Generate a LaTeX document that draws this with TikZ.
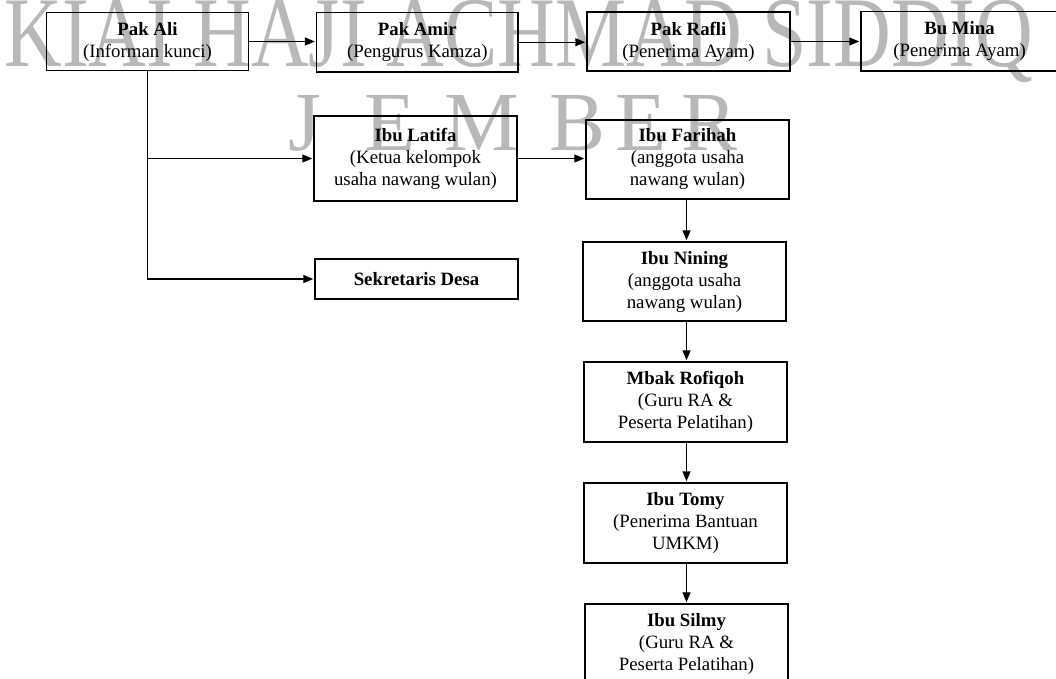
\documentclass[tikz,border=0pt]{standalone}
\usepackage{fontspec}
\setmainfont{Liberation Serif}
\usetikzlibrary{arrows.meta}
\begin{document}
\begin{tikzpicture}[x=1pt,y=-1pt,
  box/.style={draw, line width=1.5pt, align=center, inner sep=0pt,
    font=\fontsize{18.8}{22}\selectfont},
  arr/.style={line width=1.3pt, -{Triangle[length=10pt,width=8pt]}, shorten >=1pt},
  wm/.style={text=black!28, inner sep=0pt, anchor=base}]
\useasboundingbox (0,0) rectangle (1056,678);
\clip (0,0) rectangle (1056,678);
% watermark
\node[wm, font=\fontsize{100}{100}\selectfont, xscale=0.80] (wm1) at (519,66)
  {KIAI HAJI ACHMAD SIDDIQ};
\node[wm, font=\fontsize{84}{84}\selectfont] (wmJ) at (305,150) {J};
\node[wm, font=\fontsize{84}{84}\selectfont] (wmE1) at (390,150) {E};
\node[wm, font=\fontsize{84}{84}\selectfont] (wmM) at (482,150) {M};
\node[wm, font=\fontsize{84}{84}\selectfont] (wmB) at (578,150) {B};
\node[wm, font=\fontsize{84}{84}\selectfont] (wmE2) at (641,150) {E};
\node[wm, font=\fontsize{84}{84}\selectfont] (wmR) at (710,150) {R};
% boxes
\node[box, minimum width=201.6pt, minimum height=58.4pt] (ali) at (147.5,41.5)
  {\textbf{Pak Ali}\\(Informan kunci)};
\node[box, minimum width=201.3pt, minimum height=59.5pt] (amir) at (417.3,42.2)
  {\textbf{Pak Amir}\\(Pengurus Kamza)};
\node[box, minimum width=203pt, minimum height=59pt] (rafli) at (688.5,41.5)
  {\textbf{Pak Rafli}\\(Penerima Ayam)};
\node[box, minimum width=197pt, minimum height=59.3pt] (mina) at (959.5,41.3)
  {\textbf{Bu Mina}\\(Penerima Ayam)};
\node[box, minimum width=203pt, minimum height=85pt] (latifa) at (415.5,158.5)
  {\textbf{Ibu Latifa}\\(Ketua kelompok\\usaha nawang wulan)};
\node[box, minimum width=203pt, minimum height=40pt] (sekdes) at (416.5,279)
  {\textbf{Sekretaris Desa}};
\node[box, minimum width=203pt, minimum height=79pt] (farihah) at (687.5,159.5)
  {\textbf{Ibu Farihah}\\(anggota usaha\\nawang wulan)};
\node[box, minimum width=203pt, minimum height=79pt] (nining) at (684.5,281.5)
  {\textbf{Ibu Nining}\\(anggota usaha\\nawang wulan)};
\node[box, minimum width=203pt, minimum height=80pt] (rofiqoh) at (685.5,402)
  {\textbf{Mbak Rofiqoh}\\(Guru RA \&\\Peserta Pelatihan)};
\node[box, minimum width=203pt, minimum height=80pt] (tomy) at (685.5,523)
  {\textbf{Ibu Tomy}\\(Penerima Bantuan\\UMKM)};
\node[box, minimum width=203pt, minimum height=80pt] (silmy) at (686.5,644)
  {\textbf{Ibu Silmy}\\(Guru RA \&\\Peserta Pelatihan)};
% connectors
\draw[arr] (ali.east) -- (ali.east -| amir.west);
\draw[arr] (amir.east) -- (amir.east -| rafli.west);
\draw[arr] (rafli.east) -- (rafli.east -| mina.west);
\draw[arr] (ali.south) |- (sekdes.west);
\coordinate (branch) at (ali.south |- latifa.west);
\draw[arr] (branch) -- (latifa.west);
\draw[arr] (latifa.east) -- (latifa.east -| farihah.west);
\draw[arr] ([xshift=-1pt]farihah.south) -- ([xshift=-1pt]farihah.south |- nining.north);
\draw[arr] ([xshift=2pt]nining.south) -- ([xshift=2pt]nining.south |- rofiqoh.north);
\draw[arr] ([xshift=1pt]rofiqoh.south) -- ([xshift=1pt]rofiqoh.south |- tomy.north);
\draw[arr] ([xshift=1pt]tomy.south) -- ([xshift=1pt]tomy.south |- silmy.north);
\end{tikzpicture}
\end{document}
